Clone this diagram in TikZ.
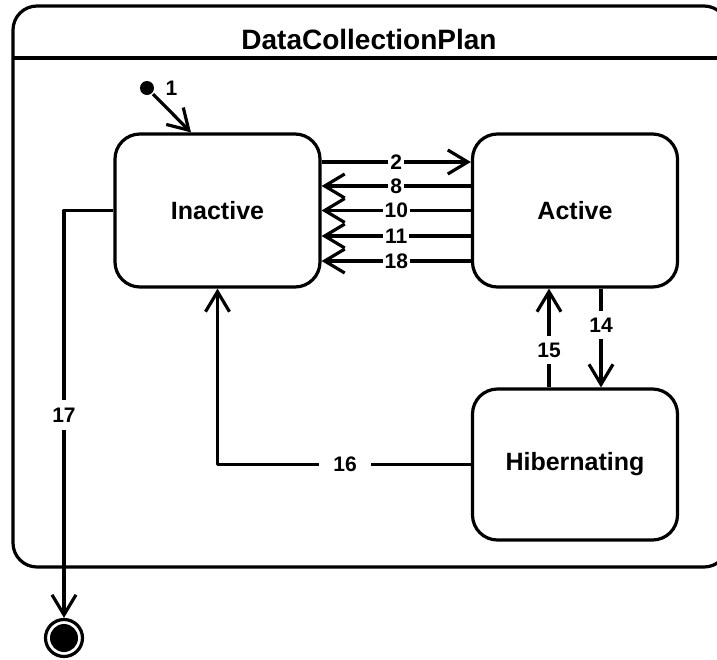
\documentclass[tikz,border=0pt]{standalone}
\usepackage{fontspec}
\setmainfont{Liberation Sans}
\usetikzlibrary{arrows.meta,calc}
\tikzset{
  statebox/.style={draw, rounded corners=25pt, minimum width=205pt, minimum height=153pt,
    inner sep=0pt, font=\fontsize{25}{28}\selectfont\bfseries},
  lab/.style={fill=white, inner sep=2pt, font=\fontsize{21}{24}\selectfont\bfseries},
  trans/.style={-{Straight Barb[length=20pt,width=24pt,line width=3.2pt]}},
}
\begin{document}
\begin{tikzpicture}[x=1pt,y=-1pt,line width=3.2pt,line join=round]
\useasboundingbox (0,0) rectangle (717,659);
\begin{scope}
\clip (0,0) rectangle (717,659);
\draw[rounded corners=24pt] (13,6) rectangle (728,567);
\draw (13,58) -- (728,58);
\end{scope}
\node[font=\fontsize{28}{32}\selectfont\bfseries] (title) at (369,39) {DataCollectionPlan};

\node[statebox] (inactive) at (217.5,210.5) {Inactive};
\node[statebox] (active) at (575,210.5) {Active};
\node[statebox, minimum height=151pt] (hib) at (575,464.5) {Hibernating};

\node[circle, fill, inner sep=0pt, minimum size=14pt] (init) at (147,88) {};
\node[lab, fill=none, anchor=west] (l1) at (162,88) {1};
\draw[trans] (init) -- ($(inactive.north)+(-26.5,0)$);

\node[circle, draw, inner sep=0pt, minimum size=37pt] (final) at (64,638) {};
\fill (final.center) circle (14pt);

% Inactive <-> Active
\draw[trans] ($(inactive.east)+(0,-48.5)$) -- node[lab] (l2) {2} ($(active.west)+(0,-48.5)$);
\draw[trans] ($(active.west)+(0,-24.5)$) -- node[lab] (l8) {8} ($(inactive.east)+(0,-24.5)$);
\draw[trans] ($(active.west)+(0,0)$) -- node[lab] (l10) {10} ($(inactive.east)+(0,0)$);
\draw[trans] ($(active.west)+(0,25.5)$) -- node[lab] (l11) {11} ($(inactive.east)+(0,25.5)$);
\draw[trans] ($(active.west)+(0,50.5)$) -- node[lab] (l18) {18} ($(inactive.east)+(0,50.5)$);

% Active <-> Hibernating
\draw[trans] ($(active.south)+(26,0)$) -- ($(hib.north)+(26,0)$);
\node[lab, inner sep=7pt] (l14) at (601,325) {14};
\draw[trans] ($(hib.north)+(-26,0)$) -- ($(active.south)+(-26,0)$);
\node[lab, inner sep=7pt] (l15) at (549,350) {15};

% Hibernating -> Inactive
\draw[trans] (hib.west) -| (inactive.south);
\node[lab, inner sep=14pt] (l16) at (345,464.5) {16};

% Inactive -> final
\draw[trans] (inactive.west) -| (final.north);
\node[lab, inner sep=8pt] (l17) at (64,415) {17};
\end{tikzpicture}
\end{document}
